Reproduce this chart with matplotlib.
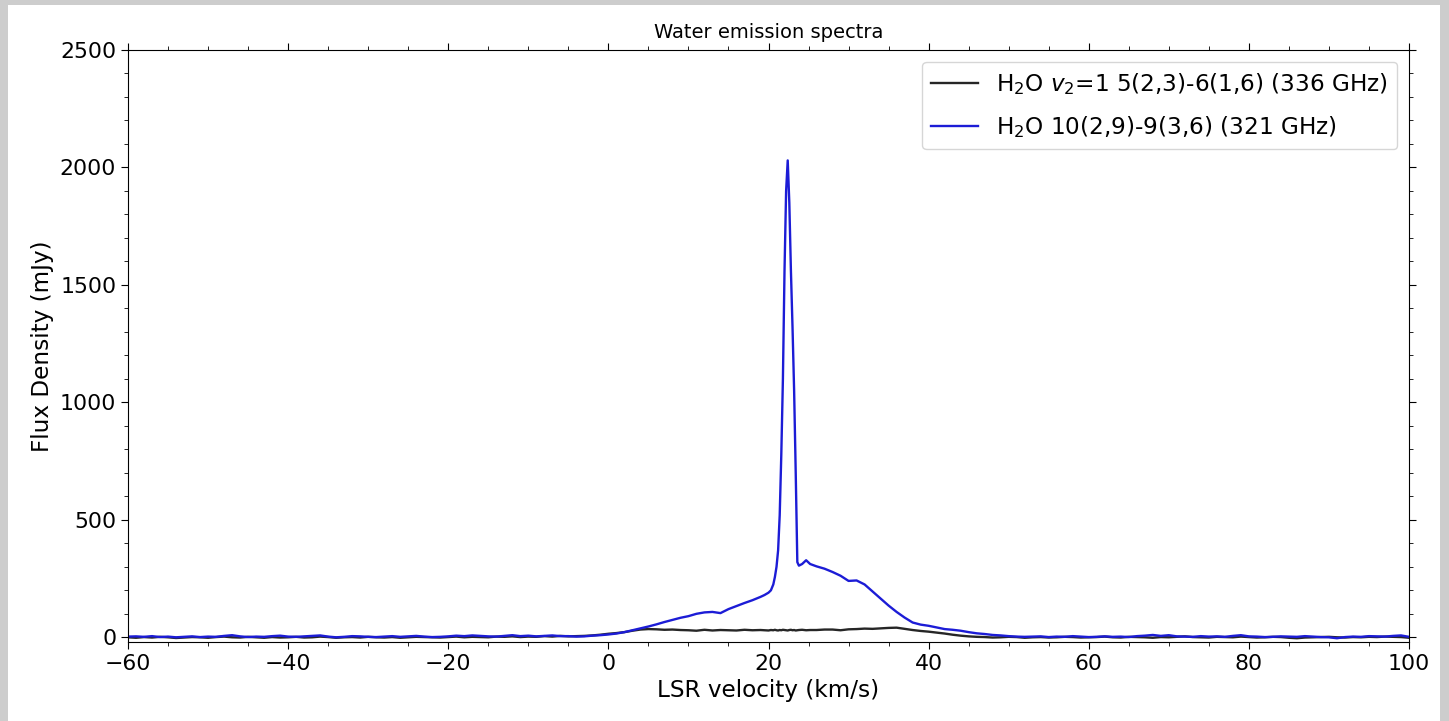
import numpy as np
import matplotlib.pyplot as plt
from matplotlib.patches import Rectangle
from matplotlib.ticker import MultipleLocator

# channel velocities (km/s): coarse outside the line, finer across the maser peak
fine_v = [19.5, 20.0, 20.3, 20.6, 20.8, 21.0, 21.2, 21.4, 21.6, 21.8, 22.0, 22.2,
          22.4, 22.6, 22.8, 23.0, 23.2, 23.4, 23.6, 23.8, 24.2, 24.7, 25.2]
velocity = list(range(-60, 20)) + fine_v + list(range(26, 101))

# H2O 10(2,9)-9(3,6) 321 GHz (mJy)
flux_321 = (
    [3, 4, 2, 5, 1, 3, 0, 2, 4, 1, 3, 2, 6, 9, 4, 1, 3, 2, 5, 7,
     3, 2, 4, 6, 8, 3, 0, 2, 5, 4, 2, 1, 3, 5, 2, 4, 6, 3, 1, 2,
     4, 7, 5, 8, 6, 4, 3, 6, 9, 5, 7, 4, 6, 8, 5, 5, 3, 4, 7, 9]
    + [12, 16, 22, 30, 38, 46, 55, 65, 74, 83, 90, 100, 106, 108, 103,
       120, 133, 146, 158, 172]
    + [180, 190, 200, 225, 257, 300, 370, 520, 780, 1100, 1560, 1900,
       2030, 1850, 1560, 1320, 1050, 700, 320, 305, 312, 328, 312]
    + [302, 292, 278, 262, 240, 242, 225, 195, 165, 135, 108, 84, 63, 54,
       49, 42, 35, 32, 28, 22, 17, 14, 10, 8, 5, 3, 2, 3]
    + [4, 1, 3, 2, 5, 3, 1, 2, 4, 2, 3, 1, 5, 7, 10, 6, 9, 4, 3, 2,
       5, 3, 4, 2, 6, 9, 4, 3, 1, 2, 4, 3, 2, 5, 3, 1, 0, -4, 1, 3,
       2, 5, 4, 3, 6, 8, 2]
)

# H2O v2=1 5(2,3)-6(1,6) 336 GHz (mJy)
flux_336 = (
    [0, -2, 1, -1, 2, 0, -3, -1, 1, 0, -2, 1, 3, 0, -1, 2, 0, -2, 1, -1,
     0, 2, -1, 0, 3, 1, -2, 0, 1, -1, 2, 0, -1, 1, -2, 0, 2, 1, 0, -1,
     1, 3, 0, 2, 1, 0, 3, 2, 4, 1, 3, 2, 5, 3, 6, 4, 5, 6, 8, 11]
    + [15, 18, 22, 28, 33, 35, 34, 32, 33, 31, 30, 28, 32, 29, 31, 30,
       29, 32, 30, 31]
    + [30, 29, 31, 30, 32, 30, 29, 31, 30, 32, 31, 30, 29, 31, 32, 30,
       31, 29, 30, 31, 32, 30, 31]
    + [31, 33, 33, 30, 34, 35, 37, 36, 38, 40, 41, 36, 31, 27, 24, 20,
       16, 11, 7, 4, 2]
    + [1, -1, 0, 2, 1, -2, 0, 1, -1, 0, 2, 1, -1, 0, 1, 3, 0, -1, 2, 1,
       0, -2, 1, 0, 2, 4, 1, 0, -1, 2, 1, 0, 3, 1, -1, 0, 2, 1, -2, -4,
       -1, 0, 1, 2, 0, -1, 1, 0, 2, 1, 3, 2, 1, -2]
)

label_336 = r'H$_2$O $v_2$=1 5(2,3)-6(1,6) (336 GHz)'
label_321 = r'H$_2$O 10(2,9)-9(3,6) (321 GHz)'

fig = plt.figure(figsize=(14.49, 7.21), dpi=100, facecolor='#cdcdcd')
# white page inside the grey screenshot border
fig.patches.append(Rectangle((8 / 1449, 0), 1432 / 1449, 716 / 721,
                             transform=fig.transFigure, facecolor='white',
                             edgecolor='none', zorder=-10))
ax = fig.add_axes([128 / 1449, 79 / 721, 1281 / 1449, 592 / 721])

ax.plot(velocity, flux_336, color='#262626', lw=1.7, label=label_336)
ax.plot(velocity, flux_321, color='#1c1cd6', lw=1.7, label=label_321)

ax.set_xlim(-60, 100)
ax.set_ylim(-20, 2500)
ax.xaxis.set_major_locator(MultipleLocator(20))
ax.xaxis.set_minor_locator(MultipleLocator(5))
ax.yaxis.set_major_locator(MultipleLocator(500))
ax.yaxis.set_minor_locator(MultipleLocator(100))
ax.tick_params(which='both', top=True, right=True, labelsize=15.8)
ax.tick_params(which='major', length=5)
ax.tick_params(which='minor', length=3)

ax.set_xlabel('LSR velocity (km/s)', fontsize=16.7)
ax.set_ylabel('Flux Density (mJy)', fontsize=16.7)
ax.set_title('Water emission spectra', fontsize=14, pad=9)
ax.legend(loc='upper right', fontsize=16.7, labelspacing=0.75)

fig.savefig('out.png', dpi=100, facecolor=fig.get_facecolor())
